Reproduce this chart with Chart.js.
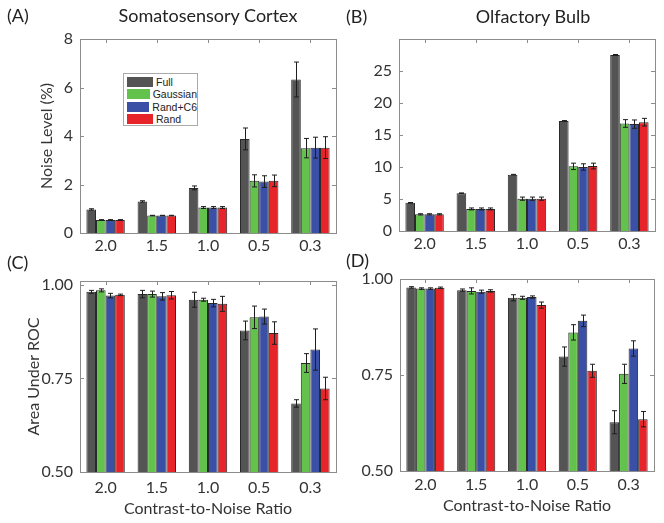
<!DOCTYPE html>
<html>
<head>
<meta charset="utf-8">
<script src="https://cdn.jsdelivr.net/npm/chart.js@4.4.0/dist/chart.umd.min.js"></script>
<style>
  body { margin: 0; background: #fff; font-family: Lato, sans-serif; color: #222; }
  #wrap { position: relative; width: 664px; height: 523px; overflow: hidden; }
  canvas { position: absolute; }
  .txt { position: absolute; font-size: 18px; white-space: nowrap; line-height: 20px; }
  .ctr { transform: translateX(-50%); }
  #legend { position: absolute; left: 123px; top: 73px; width: 75px; height: 53px; border: 1px solid #aaa; background: #fff; font-family: "Liberation Sans", Arial, sans-serif; font-size: 10.5px; padding-top: 2px; box-sizing: border-box; }
  #legend .row { display: flex; align-items: center; height: 12.3px; margin-left: 3px; }
  #legend .sw { width: 26px; height: 10px; margin-right: 3px; box-sizing: border-box; }
</style>
</head>
<body>
<div id="wrap">
  <canvas id="cA" width="340" height="265" style="left:0;top:0"></canvas>
  <canvas id="cB" width="332" height="265" style="left:332px;top:0"></canvas>
  <canvas id="cC" width="340" height="263" style="left:0;top:260px"></canvas>
  <canvas id="cD" width="332" height="263" style="left:332px;top:260px"></canvas>
  <div class="txt" style="left:7px;top:5px">(A)</div>
  <div class="txt ctr" style="left:208px;top:5px">Somatosensory Cortex</div>
  <div class="txt" style="left:346px;top:6px">(B)</div>
  <div class="txt ctr" style="left:533px;top:6px">Olfactory Bulb</div>
  <div class="txt" style="left:7px;top:252px">(C)</div>
  <div class="txt" style="left:346px;top:250px">(D)</div>
  <div id="legend"></div>
</div>
<script>
/* Noise level and ROC area per contrast-to-noise ratio, four reconstruction methods */

const categories = ['2.0', '1.5', '1.0', '0.5', '0.3'];
const seriesNames = ['Full', 'Gaussian', 'Rand+C6', 'Rand'];
const seriesColors = ['#545454', '#62c24c', '#3a4fa6', '#e6242a'];

// rows follow seriesNames: Full, Gaussian, Rand+C6, Rand
const cortexNoise = [
  [0.97, 1.30, 1.86, 3.88, 6.33],
  [0.54, 0.72, 1.05, 2.15, 3.50],
  [0.54, 0.72, 1.05, 2.12, 3.52],
  [0.54, 0.72, 1.05, 2.15, 3.52],
];
const cortexNoiseErr = [
  [0.03, 0.03, 0.08, 0.45, 0.72],
  [0.01, 0.01, 0.04, 0.25, 0.40],
  [0.01, 0.01, 0.04, 0.24, 0.43],
  [0.01, 0.01, 0.04, 0.24, 0.45],
];
const bulbNoise = [
  [4.4, 5.9, 8.8, 17.2, 27.5],
  [2.6, 3.45, 5.05, 10.1, 16.8],
  [2.6, 3.45, 5.05, 10.0, 16.7],
  [2.6, 3.45, 5.05, 10.15, 17.0],
];
const bulbNoiseErr = [
  [0.05, 0.05, 0.05, 0.05, 0.08],
  [0.1, 0.15, 0.25, 0.5, 0.6],
  [0.1, 0.15, 0.25, 0.5, 0.65],
  [0.1, 0.15, 0.25, 0.45, 0.6],
];
const cortexRoc = [
  [0.981, 0.975, 0.960, 0.878, 0.683],
  [0.985, 0.975, 0.960, 0.913, 0.791],
  [0.971, 0.969, 0.951, 0.915, 0.827],
  [0.973, 0.972, 0.949, 0.871, 0.723],
];
const cortexRocErr = [
  [0.004, 0.010, 0.020, 0.025, 0.010],
  [0.004, 0.008, 0.004, 0.030, 0.025],
  [0.006, 0.010, 0.010, 0.020, 0.055],
  [0.002, 0.010, 0.020, 0.030, 0.030],
];
const bulbRoc = [
  [0.978, 0.971, 0.951, 0.798, 0.627],
  [0.975, 0.969, 0.951, 0.861, 0.753],
  [0.975, 0.967, 0.953, 0.891, 0.819],
  [0.977, 0.969, 0.932, 0.761, 0.635],
];
const bulbRocErr = [
  [0.002, 0.003, 0.008, 0.025, 0.030],
  [0.002, 0.008, 0.004, 0.020, 0.025],
  [0.002, 0.004, 0.003, 0.015, 0.020],
  [0.002, 0.003, 0.008, 0.017, 0.020],
];

const FONT = 'Lato';
const tickFont = { family: FONT, size: 16 };
const titleFont = { family: FONT, size: 16 };

// error bars on top of each bar
const errorBars = {
  id: 'errorBars',
  afterDatasetsDraw(chart) {
    const ctx = chart.ctx, y = chart.scales.y;
    ctx.save();
    ctx.strokeStyle = '#1e1e1e';
    ctx.lineWidth = 1;
    chart.data.datasets.forEach((ds, i) => {
      chart.getDatasetMeta(i).data.forEach((bar, j) => {
        const e = ds.errors[j];
        if (!e) return;
        const v = ds.data[j];
        const x = Math.round(bar.x) + .5;
        const t = y.getPixelForValue(v + e), b = y.getPixelForValue(v - e);
        ctx.beginPath();
        ctx.moveTo(x, t); ctx.lineTo(x, b);
        ctx.moveTo(x - 2.5, t); ctx.lineTo(x + 2.5, t);
        ctx.moveTo(x - 2.5, b); ctx.lineTo(x + 2.5, b);
        ctx.stroke();
      });
    });
    ctx.restore();
  }
};

// matlab-like box with inward ticks
const boxPlugin = {
  id: 'box',
  afterDraw(chart) {
    const { ctx, chartArea: a, scales: { x, y } } = chart;
    ctx.save();
    ctx.strokeStyle = '#8c8c8c';
    ctx.lineWidth = 1;
    ctx.strokeRect(Math.round(a.left) + .5, Math.round(a.top) + .5, Math.round(a.right - a.left), Math.round(a.bottom - a.top));
    ctx.beginPath();
    y.ticks.forEach(t => {
      const py = Math.round(y.getPixelForValue(t.value)) + .5;
      ctx.moveTo(a.left, py); ctx.lineTo(a.left + 4, py);
      ctx.moveTo(a.right, py); ctx.lineTo(a.right - 4, py);
    });
    x.ticks.forEach((t, i) => {
      const px = Math.round(x.getPixelForTick(i)) + .5;
      ctx.moveTo(px, a.top); ctx.lineTo(px, a.top + 4);
    });
    ctx.stroke();
    ctx.restore();
  }
};

function makeDatasets(values, errs) {
  return seriesNames.map((name, i) => ({
    label: name,
    data: values[i],
    errors: errs[i],
    backgroundColor: seriesColors[i],
    borderColor: '#2a2a2a',
    borderWidth: 1,
    categoryPercentage: 0.75,
    barPercentage: 1.0,
  }));
}

function makeChart(id, cfg) {
  return new Chart(document.getElementById(id), {
    type: 'bar',
    data: { labels: categories, datasets: makeDatasets(cfg.values, cfg.errs) },
    plugins: [errorBars, boxPlugin],
    options: {
      responsive: false,
      animation: false,
      devicePixelRatio: 1,
      layout: { padding: { top: cfg.padTop, right: cfg.padRight, left: 0, bottom: 0 } },
      plugins: { legend: { display: false }, tooltip: { enabled: false } },
      scales: {
        x: {
          grid: { display: false, drawTicks: false },
          border: { display: false },
          ticks: { color: '#333', font: tickFont, padding: cfg.xPad, maxRotation: 0 },
          title: cfg.xTitle ? { display: true, text: cfg.xTitle, color: '#333', font: titleFont, padding: { top: 0, bottom: cfg.xTitlePad } } : { display: false },
          afterFit: s => { s.height = cfg.xHeight; },
        },
        y: {
          min: cfg.min, max: cfg.max,
          grid: { display: false, drawTicks: false },
          border: { display: false },
          ticks: { color: '#333', font: tickFont, padding: 7, stepSize: cfg.step, callback: cfg.tickFmt },
          afterBuildTicks: cfg.tickValues ? s => { s.ticks = cfg.tickValues.map(v => ({ value: v })); } : undefined,
          title: cfg.yTitle ? { display: true, text: cfg.yTitle, color: '#333', font: titleFont, padding: { top: cfg.yTitlePad, bottom: 0 } } : { display: false },
          afterFit: s => { s.width = cfg.yWidth; },
        }
      }
    }
  });
}

const chartA = makeChart('cA', {
  values: cortexNoise, errs: cortexNoiseErr,
  min: 0, max: 8, step: 2, tickFmt: v => v,
  padTop: 39, padRight: 4, yWidth: 80, xHeight: 32, xPad: 3,
  yTitle: 'Noise Level (%)', yTitlePad: 37,
});

makeChart('cB', {
  values: bulbNoise, errs: bulbNoiseErr,
  min: 0, max: 30, step: 5, tickFmt: v => v === 30 ? '' : v,
  padTop: 39, padRight: 9, yWidth: 67, xHeight: 34, xPad: 3,
});

makeChart('cC', {
  values: cortexRoc, errs: cortexRocErr,
  min: 0.5, max: 1.01, tickValues: [0.5, 0.75, 1.0], tickFmt: v => v.toFixed(2),
  padTop: 21, padRight: 4, yWidth: 80, xHeight: 51, xPad: 6,
  yTitle: 'Area Under ROC', yTitlePad: 24,
  xTitle: 'Contrast-to-Noise Ratio', xTitlePad: 5,
});

makeChart('cD', {
  values: bulbRoc, errs: bulbRocErr,
  min: 0.5, max: 1.0, tickValues: [0.5, 0.75, 1.0], tickFmt: v => v.toFixed(2),
  padTop: 19, padRight: 10, yWidth: 68, xHeight: 52, xPad: 4,
  xTitle: 'Contrast-to-Noise Ratio', xTitlePad: 8,
});

// legend inside panel A, built from the chart's datasets
const legendEl = document.getElementById('legend');
chartA.data.datasets.forEach(ds => {
  const row = document.createElement('div');
  row.className = 'row';
  row.innerHTML = `<span class="sw" style="background:${ds.backgroundColor}"></span><span>${ds.label}</span>`;
  legendEl.appendChild(row);
});
</script>
</body>
</html>
